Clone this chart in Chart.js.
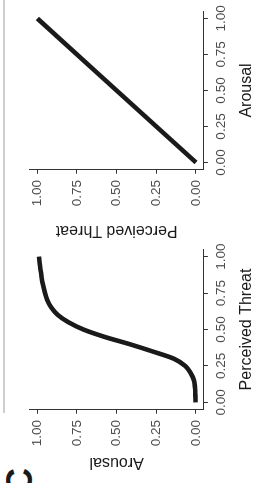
<!DOCTYPE html>
<html>
<head>
<meta charset="utf-8">
<script src="https://cdn.jsdelivr.net/npm/chart.js@4"></script>
<style>
  html, body { margin: 0; padding: 0; background: #fff; overflow: hidden; }
  body { width: 258px; height: 483px; position: relative; }
  #turn {
    position: absolute; left: 0; top: 0; width: 483px; height: 258px;
    transform-origin: 0 0; transform: translate(0, 483px) rotate(-90deg);
  }
  #turn canvas { position: absolute; top: 0; }
  #rule { position: absolute; left: 70px; top: 3px; width: 413px; height: 2px; background: #cfcfcf; }
  #tag { position: absolute; left: -11px; top: 2px; font: bold 36px/1 "Liberation Sans", Arial, sans-serif; color: #1a1a1a; }
</style>
</head>
<body>
<div id="turn">
  <div id="rule"></div>
  <div id="tag">C</div>
  <canvas id="curveChart" width="245" height="258" style="left:0"></canvas>
  <canvas id="lineChart" width="245" height="258" style="left:238px"></canvas>
</div>
<script>
// panel 1: arousal as a function of perceived threat
const threatX = [0, 0.05, 0.10, 0.15, 0.20, 0.25, 0.30, 0.35, 0.40, 0.45, 0.50,
                 0.55, 0.60, 0.65, 0.70, 0.75, 0.80, 0.85, 0.90, 0.95, 1.00];
const arousalY = [0.003, 0.004, 0.006, 0.012, 0.033, 0.068, 0.14, 0.275, 0.42, 0.578, 0.71,
                  0.805, 0.872, 0.912, 0.937, 0.952, 0.963, 0.972, 0.978, 0.985, 0.99];

// panel 2: perceived threat as a function of arousal
const arousalX = [0, 1];
const threatY = [0, 1];

const tickVals = [0, 0.25, 0.5, 0.75, 1];

const FONT = "'Liberation Sans', Arial, sans-serif";
const INK = '#1a1a1a';

function points(xs, ys) {
    return xs.map((x, i) => ({ x: x, y: ys[i] }));
}

function axis(title, isY, titlePad) {
    return {
        type: 'linear',
        min: -0.05,
        max: 1.05,
        afterBuildTicks: s => { s.ticks = tickVals.map(v => ({ value: v })); },
        afterFit: s => { if (isY) s.width = 75.3; else s.height = 54.1; },
        ticks: {
            color: '#4d4d4d',
            font: { family: FONT, size: 13.5 },
            padding: isY ? 6.3 : 5,
            maxRotation: 0,
            autoSkip: false,
            callback: v => v.toFixed(2)
        },
        grid: { drawOnChartArea: false, color: '#333', tickLength: 4, lineWidth: 1 },
        border: { color: '#333', width: 1 },
        title: {
            display: true,
            text: title,
            color: INK,
            font: { family: FONT, size: 16, lineHeight: 1.2 },
            padding: titlePad
        }
    };
}

function makeChart(id, xs, ys, xTitle, yTitle, yTitlePad, pad) {
    return new Chart(document.getElementById(id).getContext('2d'), {
        type: 'line',
        data: {
            datasets: [{
                data: points(xs, ys),
                borderColor: INK,
                borderWidth: 4.6,
                pointRadius: 0,
                cubicInterpolationMode: 'monotone',
                borderCapStyle: 'butt',
                fill: false
            }]
        },
        options: {
            responsive: false,
            animation: false,
            devicePixelRatio: 1,
            layout: { padding: pad },
            plugins: { legend: { display: false }, tooltip: { enabled: false } },
            scales: {
                x: axis(xTitle, false, { top: 0, bottom: 1.5 }),
                y: axis(yTitle, true, { top: yTitlePad, bottom: 0 })
            }
        }
    });
}

makeChart('curveChart', threatX, arousalY, 'Perceived Threat', 'Arousal', 13,
          { left: -2, right: 9.6, top: 29.4, bottom: 0 });
makeChart('lineChart', arousalX, threatY, 'Arousal', 'Perceived Threat', 4.5,
          { left: 0, right: 7.6, top: 29.4, bottom: 0 });
</script>
</body>
</html>
